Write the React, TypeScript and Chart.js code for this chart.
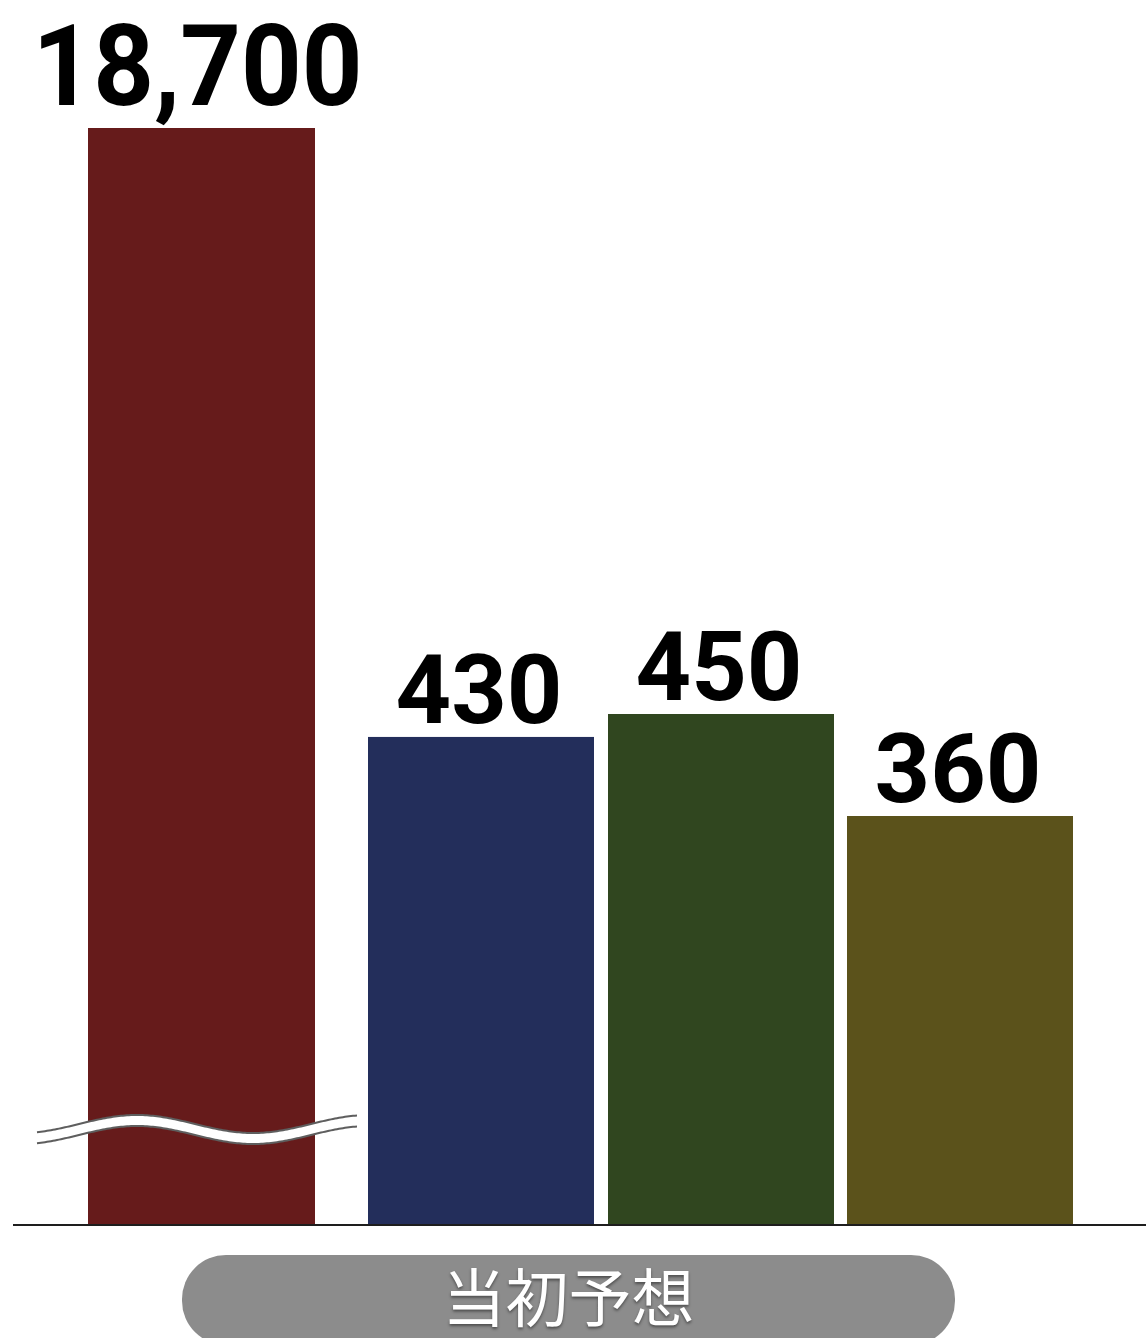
import React, { useEffect, useRef } from 'react';
import { Chart, registerables } from 'chart.js';

Chart.register(...registerables);

// ---- data ----
const CATEGORIES = ['当初予想'];
const SERIES_NAMES = ['A', 'B', 'C', 'D'];
const SERIES_VALUES = [18700, 430, 450, 360];
const SERIES_COLORS = ['#661b1b', '#232e5b', '#30461f', '#5b521b'];
// transparent side borders that open up the gaps between the bars
const SIDE_GAPS = [
  { left: 0, right: 26 },
  { left: 27, right: 0 },
  { left: 14, right: 13 },
  { left: 0, right: 27 },
];
const Y_AXIS_MAX = 967; // axis is broken above this value

const W = 1146;
const H = 1338;

const fmt = (v: number) => v.toLocaleString('en-US');

const overlayPlugin = {
  id: 'overlay',
  afterDatasetsDraw(chart: any) {
    const { ctx, chartArea } = chart;
    const yScale = chart.scales.y;
    ctx.save();

    // baseline
    const base = yScale.getPixelForValue(0);
    ctx.fillStyle = '#1e1e1e';
    ctx.fillRect(13, Math.round(base), W - 13, 2);

    chart.data.datasets.forEach((ds: any, i: number) => {
      const meta = chart.getDatasetMeta(i);
      const el: any = meta.data[0];
      const v = ds.data[0];
      const gap = SIDE_GAPS[i];
      const left = el.x - el.width / 2 + gap.left;
      const right = el.x + el.width / 2 - gap.right;
      const cx = (left + right) / 2;
      const broken = v > yScale.max;
      const top = Math.max(el.y, chartArea.top);

      // break mark
      if (broken) {
        const x0 = left - 51;
        const x1 = right + 43;
        const period = 232;
        const phase = left - 9;
        const yc = el.base - 100;
        const amp = 9;
        const band = 11;
        const yAt = (x: number) => yc - amp * Math.sin((2 * Math.PI * (x - phase)) / period);
        ctx.beginPath();
        for (let x = x0; x <= x1; x += 2) {
          if (x === x0) ctx.moveTo(x, yAt(x));
          else ctx.lineTo(x, yAt(x));
        }
        for (let x = x1; x >= x0; x -= 2) ctx.lineTo(x, yAt(x) + band);
        ctx.closePath();
        ctx.fillStyle = '#ffffff';
        ctx.fill();
        ctx.strokeStyle = '#5e5e5e';
        ctx.lineWidth = 2;
        for (const off of [0, band]) {
          ctx.beginPath();
          for (let x = x0; x <= x1; x += 2) {
            if (x === x0) ctx.moveTo(x, yAt(x) + off);
            else ctx.lineTo(x, yAt(x) + off);
          }
          ctx.stroke();
        }
      }

      // value label
      ctx.save();
      ctx.fillStyle = '#000000';
      ctx.textAlign = 'center';
      ctx.textBaseline = 'alphabetic';
      if (broken) {
        ctx.font = 'bold 114px Roboto';
        ctx.translate(cx - 4, top - 23);
        ctx.scale(0.93, 1);
        ctx.fillText(fmt(v), 0, 0);
      } else {
        ctx.font = 'bold 97px Roboto';
        ctx.fillText(fmt(v), cx - 2, top - 14);
      }
      ctx.restore();
    });

    // category pill
    const label = CATEGORIES[0];
    const pillL = 182;
    const pillR = 955;
    const pillT = 1255;
    const pillB = 1345;
    ctx.fillStyle = '#8c8c8c';
    ctx.beginPath();
    ctx.roundRect(pillL, pillT, pillR - pillL, pillB - pillT, 44);
    ctx.fill();
    ctx.fillStyle = '#ffffff';
    ctx.font = '400 63px "Noto Sans CJK JP"';
    ctx.textAlign = 'center';
    ctx.textBaseline = 'middle';
    ctx.shadowColor = 'rgba(0,0,0,0.45)';
    ctx.shadowBlur = 3;
    ctx.shadowOffsetY = 2;
    ctx.fillText(label, (pillL + pillR) / 2, 1297);
    ctx.restore();
  },
};

export default function App() {
  const ref = useRef<HTMLCanvasElement | null>(null);
  useEffect(() => {
    if (!ref.current) return;
    const chart = new Chart(ref.current, {
      type: 'bar',
      data: {
        labels: CATEGORIES,
        datasets: SERIES_VALUES.map((v, i) => ({
          label: SERIES_NAMES[i],
          data: [v],
          backgroundColor: SERIES_COLORS[i],
          borderColor: 'rgba(0,0,0,0)',
          borderWidth: { top: 0, bottom: 0, left: SIDE_GAPS[i].left, right: SIDE_GAPS[i].right },
          borderSkipped: false,
          inflateAmount: 0,
          barThickness: 253,
          clip: 0,
        })) as any,
      },
      options: {
        responsive: false,
        animation: false,
        devicePixelRatio: 1,
        layout: { padding: { left: 42, right: 0, top: 128, bottom: 114 } },
        scales: {
          x: { display: false, offset: true, grid: { display: false } },
          y: { display: false, min: 0, max: Y_AXIS_MAX },
        },
        plugins: { legend: { display: false }, tooltip: { enabled: false } },
      },
      plugins: [overlayPlugin],
    });
    return () => chart.destroy();
  }, []);
  return (
    <div style={{ position: 'absolute', left: 0, top: 0, width: W, height: H, background: '#fff' }}>
      <canvas ref={ref} width={W} height={H} style={{ display: 'block' }} />
    </div>
  );
}
